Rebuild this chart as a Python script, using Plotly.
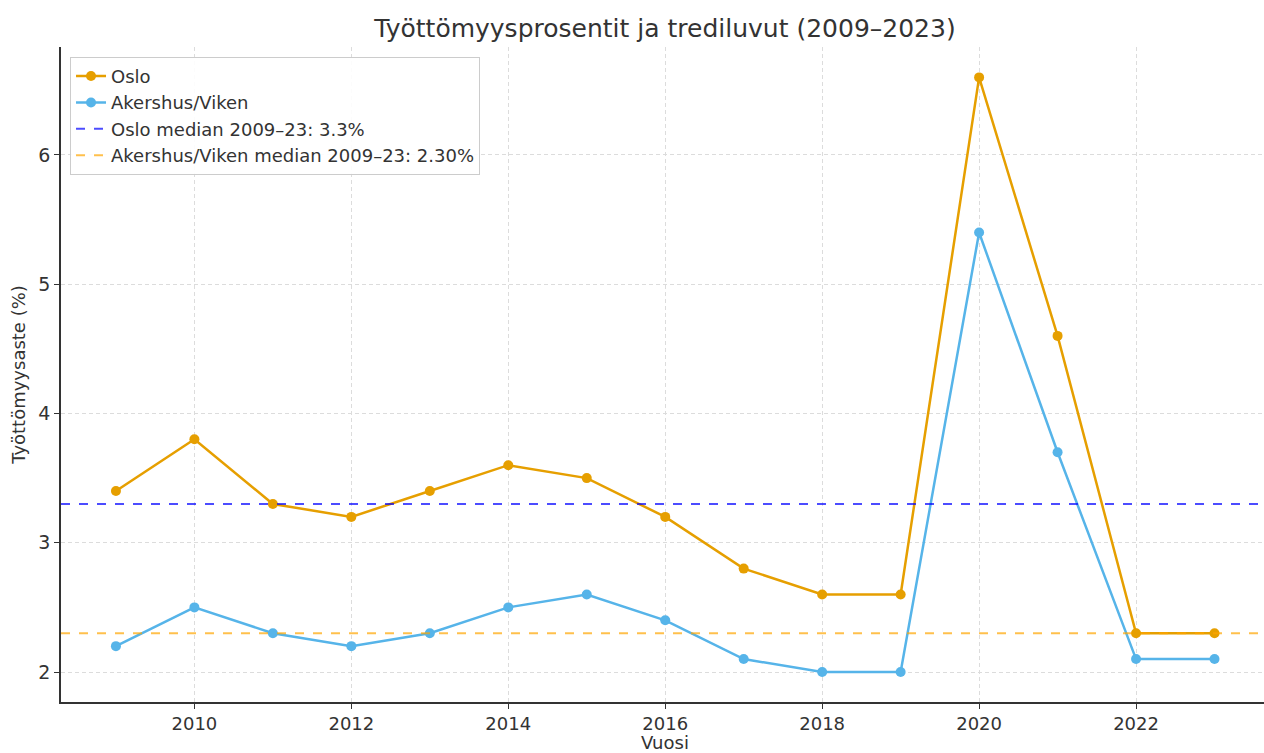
import plotly.graph_objects as go

years = list(range(2009, 2024))
oslo = [3.4, 3.8, 3.3, 3.2, 3.4, 3.6, 3.5, 3.2, 2.8, 2.6, 2.6, 6.6, 4.6, 2.3, 2.3]
akershus = [2.2, 2.5, 2.3, 2.2, 2.3, 2.5, 2.6, 2.4, 2.1, 2.0, 2.0, 5.4, 3.7, 2.1, 2.1]
oslo_median = 3.3
akershus_median = 2.3
tick_years = [2010, 2012, 2014, 2016, 2018, 2020, 2022]
y_ticks = [2, 3, 4, 5, 6]

FONT = "DejaVu Sans"
TXT = "#333333"

fig = go.Figure()
fig.add_trace(go.Scatter(x=years, y=oslo, mode="lines+markers", name="Oslo",
                         line=dict(color="#E69F00", width=2.5),
                         marker=dict(size=10, color="#E69F00")))
fig.add_trace(go.Scatter(x=years, y=akershus, mode="lines+markers", name="Akershus/Viken",
                         line=dict(color="#56B4E9", width=2.5),
                         marker=dict(size=10, color="#56B4E9")))
x_span = [2008.3, 2023.7]
fig.add_trace(go.Scatter(x=x_span, y=[oslo_median, oslo_median], mode="lines",
                         name="Oslo median 2009–23: 3.3%",
                         line=dict(color="rgba(0,0,255,0.7)", width=2, dash="dash")))
fig.add_trace(go.Scatter(x=x_span, y=[akershus_median, akershus_median], mode="lines",
                         name="Akershus/Viken median 2009–23: 2.30%",
                         line=dict(color="rgba(255,165,0,0.7)", width=2, dash="dash")))

fig.update_layout(
    width=1264, height=753,
    margin=dict(l=61, r=0, t=47, b=51),
    paper_bgcolor="white", plot_bgcolor="white",
    font=dict(family=FONT, color=TXT, size=17),
    title=dict(text="Työttömyysprosentit ja trediluvut (2009–2023)",
               x=(61 + 1269) / 2 / 1264, xanchor="center", y=1 - 28 / 753, yanchor="middle",
               font=dict(size=25, color=TXT)),
    legend=dict(x=0.0075, y=0.985, xanchor="left", yanchor="top",
                bgcolor="rgba(255,255,255,0.9)", bordercolor="#cccccc", borderwidth=1,
                font=dict(size=18, color=TXT)),
    showlegend=True,
)
fig.add_annotation(text="Vuosi", xref="paper", yref="paper", x=(665 - 61) / 1203, y=0,
                   xanchor="center", yanchor="middle", yshift=-40, showarrow=False,
                   font=dict(size=18, color=TXT))
fig.update_xaxes(range=[2008.3, 2010 + (1264 - 194) / 78.5], tickvals=tick_years,
                 ticktext=[str(t) for t in tick_years], automargin=False,
                 showgrid=True, gridcolor="#dcdcdc", griddash="4px,3px", gridwidth=1,
                 showline=True, linecolor=TXT, linewidth=1.5,
                 ticks="outside", ticklen=5, tickcolor=TXT,
                 tickfont=dict(size=18, color=TXT), zeroline=False)
fig.update_yaxes(range=[1.768, 6.835], tickvals=y_ticks, automargin=False,
                 showgrid=True, gridcolor="#dcdcdc", griddash="4px,3px", gridwidth=1,
                 showline=True, linecolor=TXT, linewidth=1.5,
                 ticks="outside", ticklen=5, tickcolor=TXT,
                 tickfont=dict(size=19, color=TXT), zeroline=False,
                 title=dict(text="Työttömyysaste (%)", font=dict(size=18, color=TXT), standoff=8))

fig.write_html("out.html", config={"displayModeBar": False},
               post_script="document.body.style.margin='0';document.body.style.overflow='hidden';")
